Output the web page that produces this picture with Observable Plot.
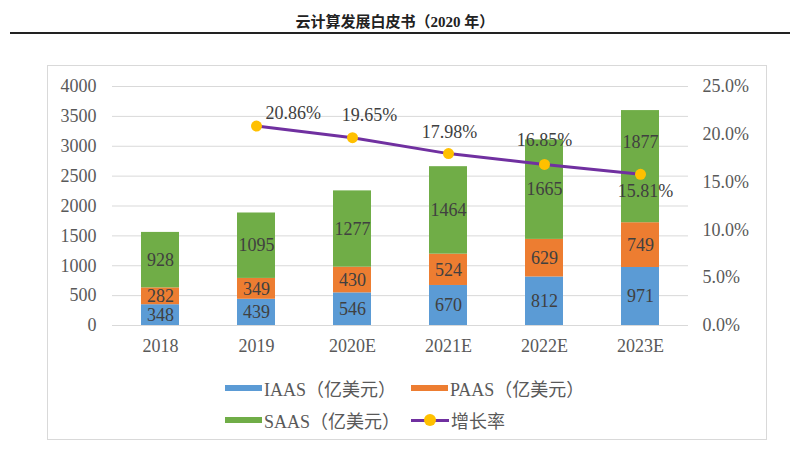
<!DOCTYPE html>
<html><head><meta charset="utf-8">
<script src="https://cdn.jsdelivr.net/npm/d3@7"></script>
<script src="https://cdn.jsdelivr.net/npm/@observablehq/plot@0.6"></script>
<style>
body{margin:0;background:#fff;}
#wrap{position:relative;width:790px;height:456px;overflow:hidden;background:#fff;font-family:"Liberation Serif","Noto Sans CJK SC",serif;}
#title{position:absolute;top:10px;left:0;width:790px;text-align:center;font-size:15px;font-weight:bold;color:#222;}
#rule{position:absolute;left:10px;top:32px;width:780px;height:2px;background:#222;}
#frame{position:absolute;left:47px;top:65px;width:718px;height:373px;border:1px solid #d9d9d9;}
#chart{position:absolute;left:0;top:0;}
#legend{position:absolute;left:225px;top:372px;display:grid;grid-template-columns:186px 186px;grid-auto-rows:32px;font-size:18px;color:#595959;}
.item{display:flex;align-items:center;white-space:nowrap;}
.sw{display:inline-block;width:37px;height:6px;margin-right:2px;}
.ln{position:relative;display:inline-block;width:38px;height:3px;margin-right:2px;background:#7030A0;}
.ln::after{content:"";position:absolute;left:13px;top:-4.5px;width:12px;height:12px;border-radius:50%;background:#FFC000;}
</style></head>
<body>
<div id="wrap">
  <div id="title"></div>
  <div id="rule"></div>
  <div id="frame"></div>
  <div id="chart"></div>
  <div id="legend"></div>
</div>
<script>
const titleText = "云计算发展白皮书（2020 年）";
const years = ["2018","2019","2020E","2021E","2022E","2023E"];
const seriesNames = ["IAAS（亿美元）","PAAS（亿美元）","SAAS（亿美元）"];
const iaas = [348,439,546,670,812,971];
const paas = [282,349,430,524,629,749];
const saas = [928,1095,1277,1464,1665,1877];
const growthName = "增长率";
const growth = [null,20.86,19.65,17.98,16.85,15.81];
const leftTicks = [0,500,1000,1500,2000,2500,3000,3500,4000];
const rightTicks = [0,5,10,15,20,25];
const seriesColors = ["#5B9BD5","#ED7D31","#70AD47"];
const lineColor = "#7030A0", dotColor = "#FFC000";

document.getElementById("title").textContent = titleText;

const seriesValues = [iaas, paas, saas];
const rows = [];
seriesValues.forEach((vals, s) => vals.forEach((v, i) => rows.push({year: years[i], series: seriesNames[s], value: v, s, i})));

const yMax = 4000, pMax = 25, k = yMax / pMax;
const growthRows = years.map((y, i) => ({year: y, rate: growth[i], i})).filter(d => d.rate != null);
const pct = d => d.rate.toFixed(2) + "%";
// the label of the last SAAS segment is lifted to clear the growth line
const lifted = d => d.s === 2 && d.i === years.length - 1;

const FS = 18;
const labelStyle = {fill: "#404040", fontSize: FS, fontFamily: "Liberation Serif"};

const chart = Plot.plot({
  width: 790, height: 360,
  marginLeft: 112, marginRight: 102, marginTop: 86, marginBottom: 35,
  style: {fontFamily: "Liberation Serif", fontSize: FS + "px", background: "transparent", color: "#595959"},
  x: {domain: years, paddingInner: 0.6, paddingOuter: 0.3, axis: null},
  y: {domain: [0, yMax], axis: null},
  color: {domain: seriesNames, range: seriesColors},
  marks: [
    Plot.gridY(leftTicks, {stroke: "#d9d9d9", strokeOpacity: 1, strokeWidth: 1}),
    Plot.axisY(leftTicks, {anchor: "left", tickSize: 0, tickPadding: 16, fontSize: FS, fill: "#595959", label: null, tickFormat: d => String(d)}),
    Plot.axisY(rightTicks.map(t => t * k), {anchor: "right", tickSize: 0, tickPadding: 14, fontSize: FS, fill: "#595959", label: null, tickFormat: d => (d / k).toFixed(1) + "%"}),
    Plot.axisX({anchor: "bottom", tickSize: 0, tickPadding: 14, fontSize: FS, fill: "#595959", label: null}),
    Plot.barY(rows, {x: "year", y: "value", fill: "series"}),
    Plot.text(rows, Plot.stackY({x: "year", y: "value", text: d => lifted(d) ? "" : String(d.value), ...labelStyle})),
    Plot.text(rows, Plot.stackY({x: "year", y: "value", text: d => lifted(d) ? String(d.value) : "", dy: -24, ...labelStyle})),
    Plot.line(growthRows, {x: "year", y: d => d.rate * k, stroke: lineColor, strokeWidth: 3}),
    Plot.dot(growthRows, {x: "year", y: d => d.rate * k, fill: dotColor, r: 5.5}),
    Plot.text(growthRows, {filter: d => d.i === 1, x: "year", y: d => d.rate * k, text: pct, textAnchor: "start", dx: 9, dy: -13, ...labelStyle}),
    Plot.text(growthRows, {filter: d => d.i === 2, x: "year", y: d => d.rate * k, text: pct, dx: 17, dy: -22, ...labelStyle}),
    Plot.text(growthRows, {filter: d => d.i === 3, x: "year", y: d => d.rate * k, text: pct, dx: 1, dy: -21, ...labelStyle}),
    Plot.text(growthRows, {filter: d => d.i === 4, x: "year", y: d => d.rate * k, text: pct, dx: 0, dy: -24, ...labelStyle}),
    Plot.text(growthRows, {filter: d => d.i === 5, x: "year", y: d => d.rate * k, text: pct, dx: 5, dy: 17, ...labelStyle})
  ]
});
document.getElementById("chart").appendChild(chart);

const legend = document.getElementById("legend");
const items = seriesNames.map((n, i) => `<div class="item"><span class="sw" style="background:${seriesColors[i]}"></span>${n}</div>`);
items.push(`<div class="item"><span class="ln"></span>${growthName}</div>`);
legend.innerHTML = items.join("");
</script>
</body></html>
